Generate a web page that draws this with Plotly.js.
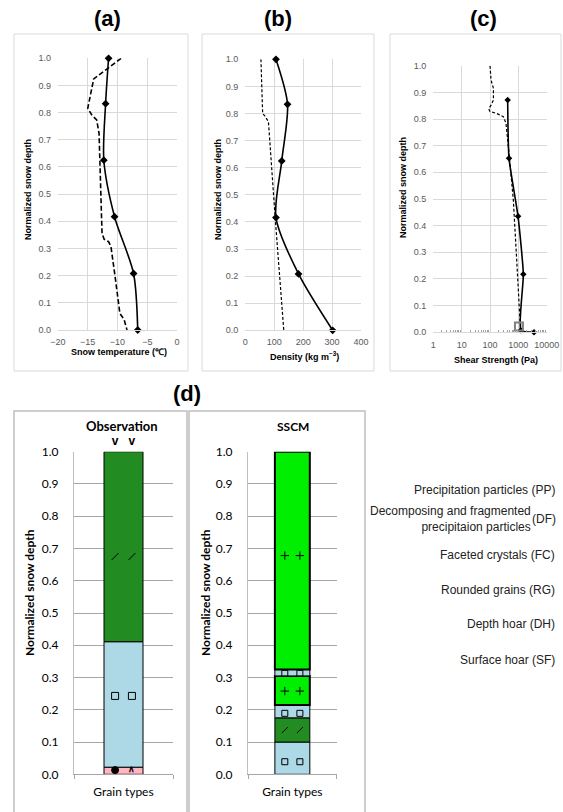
<!DOCTYPE html>
<html><head><meta charset="utf-8">
<script src="https://cdn.plot.ly/plotly-3.0.1.min.js"></script>
<style>html,body{margin:0;padding:0;background:#fff}#chart{width:563px;height:812px}</style>
</head><body><div id="chart"></div>
<script>
// ---------------- DATA ----------------
// (a) snow temperature
const depthObsA = [1.0, 0.833, 0.625, 0.417, 0.208, 0.0];
const tempObs   = [-11.5, -12.0, -12.3, -10.5, -7.3, -6.6];
const depthSimA = [1.0, 0.933, 0.924, 0.816, 0.791, 0.773, 0.724, 0.356, 0.334, 0.325, 0.307, 0.196, 0.061, 0.039, 0.0];
const tempSim   = [-9.4, -13.5, -14.0, -15.0, -14.3, -13.5, -13.1, -12.6, -12.25, -11.5, -11.1, -10.4, -9.6, -8.9, -8.4];
// (b) density
const depthObsB = [1.0, 0.834, 0.625, 0.416, 0.208, 0.0];
const densObs   = [106, 146, 126, 106, 184, 302];
const depthSimB = [1.0, 0.80, 0.79, 0.77, 0.42, 0.0];
const densSim   = [54, 60, 68, 80, 103, 133];
// (c) shear strength
const depthObsC  = [0.871, 0.6525, 0.435, 0.2175, 0.008, 0.0];
const shearObs   = [420, 468, 975, 1500, 1230, 3560];
const depthSimC  = [1.0, 0.946, 0.915, 0.871, 0.853, 0.838, 0.828, 0.821, 0.809, 0.784, 0.696, 0.496, 0.271, 0.046, 0.0];
const shearSim   = [100, 109, 132, 132, 110, 90, 100, 171, 296, 366, 445, 665, 875, 1140, 1310];
const depthExtraC = [0.022];
const shearExtraC = [1050];
const logTickVals = [1, 10, 100, 1000, 10000];
const logTickText = ['1', '10', '100', '1000', '10000'];
// (d) grain type layers
const obsBase = [0.0, 0.022, 0.411];
const obsTop  = [0.022, 0.411, 1.0];
const obsType = ['RG', 'FC', 'DF'];
const obsSymDepth = [0.013, 0.243, 0.675, 1.03];
const obsSymLeft  = ['RG', 'FC', 'DF', 'SH'];
const obsSymRight = ['DH', 'FC', 'DF', 'SH'];
const sscmBase = [0.0, 0.1, 0.175, 0.215, 0.305, 0.325];
const sscmTop  = [0.1, 0.175, 0.215, 0.305, 0.325, 1.0];
const sscmType = ['FC', 'DF', 'FC', 'PP', 'FC', 'PP'];
const sscmSymDepth = [0.039, 0.137, 0.189, 0.258, 0.313, 0.678];
const sscmSymLeft  = ['FC', 'DF', 'FC', 'PP', 'FC', 'PP'];
const sscmSymRight = ['FC', 'DF', 'FC', 'PP', 'FC', 'PP'];
const grainLabels = [
  ['Precipitation particles', 'PP'],
  ['Decomposing and fragmented<br>precipitaion particles', 'DF'],
  ['Faceted crystals', 'FC'],
  ['Rounded grains', 'RG'],
  ['Depth hoar', 'DH'],
  ['Surface hoar', 'SF']
];

// ---------------- STYLE ----------------
const W = 563, H = 812;
const fx = p => p / W;
const fy = p => 1 - p / H;
const ARIAL = 'Liberation Sans, Arial, sans-serif';
const LATO = 'Lato, Carlito, sans-serif';
const typeColor = {PP: '#00ee00', DF: '#228b22', FC: '#add8e6', RG: '#ffb6c1'};
const typeMarker = {PP: 'cross-thin-open', DF: 'line-ne-open', FC: 'square-open', RG: 'circle'};
const typeText = {DH: '∧', SH: 'v'};
const typeTextSize = {DH: 9, SH: 12};

const traces = [];
// (a)
traces.push({x: tempObs, y: depthObsA, xaxis: 'x', yaxis: 'y', type: 'scatter', mode: 'lines+markers',
  line: {color: '#000', width: 1.6, shape: 'spline', smoothing: 0.8},
  marker: {symbol: 'diamond', size: 6, color: '#000'}, cliponaxis: false});
traces.push({x: tempSim, y: depthSimA, xaxis: 'x', yaxis: 'y', type: 'scatter', mode: 'lines',
  line: {color: '#000', width: 1.6, dash: '5px,2.5px'}, cliponaxis: false});
// (b)
traces.push({x: densObs, y: depthObsB, xaxis: 'x2', yaxis: 'y2', type: 'scatter', mode: 'lines+markers',
  line: {color: '#000', width: 1.6, shape: 'spline', smoothing: 0.8},
  marker: {symbol: 'diamond', size: 6, color: '#000'}, cliponaxis: false});
traces.push({x: densSim, y: depthSimB, xaxis: 'x2', yaxis: 'y2', type: 'scatter', mode: 'lines',
  line: {color: '#000', width: 1.2, dash: '3px,2px'}, cliponaxis: false});
// (c)
traces.push({x: shearSim, y: depthSimC, xaxis: 'x3', yaxis: 'y3', type: 'scatter', mode: 'lines',
  line: {color: '#000', width: 1.2, dash: '3px,2px'}, cliponaxis: false});
traces.push({x: shearObs, y: depthObsC, xaxis: 'x3', yaxis: 'y3', type: 'scatter', mode: 'lines+markers',
  line: {color: '#000', width: 1.6, shape: 'spline', smoothing: 0.5},
  marker: {symbol: 'diamond', size: 5, color: '#000'}, cliponaxis: false});
traces.push({x: shearExtraC, y: depthExtraC, xaxis: 'x3', yaxis: 'y3', type: 'scatter', mode: 'markers',
  marker: {symbol: 'square-open', size: 8, color: '#808080', line: {width: 2, color: '#808080'}}, cliponaxis: false});

// (d) bars + symbols
function addColumn(base, top, types, symDepth, symL, symR, xa, ya, yaText, symSize) {
  traces.push({type: 'bar', x: base.map(() => 0), y: top.map((t, i) => t - base[i]), base: base,
    width: 0.394, xaxis: xa, yaxis: ya,
    marker: {color: types.map(t => typeColor[t]),
      line: {color: '#000', width: types.map(t => t === 'PP' ? 2 : 1)}}});
  const off = 0.085;
  const mx = [], my = [], ms = [];
  const inT = {x: [], y: [], t: [], s: []}, outT = {x: [], y: [], t: [], s: []};
  symDepth.forEach((d, i) => {
    [[-off, symL[i]], [off, symR[i]]].forEach(([ox, t]) => {
      if (typeMarker[t]) { mx.push(ox); my.push(d); ms.push(typeMarker[t]); }
      else { const g = d > 1 ? outT : inT; g.x.push(ox); g.y.push(d); g.t.push(typeText[t]); g.s.push(typeTextSize[t]); }
    });
  });
  traces.push({type: 'scatter', mode: 'markers', x: mx, y: my, xaxis: xa, yaxis: ya, cliponaxis: false,
    marker: {symbol: ms, size: symSize, color: '#000', line: {color: '#000', width: 1}}});
  [[inT, ya], [outT, yaText]].forEach(([g, yax]) => {
    traces.push({type: 'scatter', mode: 'text', x: g.x, y: g.y, text: g.t, xaxis: xa, yaxis: yax, cliponaxis: false,
      textposition: 'middle center', textfont: {family: ARIAL, size: g.s, color: '#000', weight: 'bold'}});
  });
}
addColumn(obsBase, obsTop, obsType, obsSymDepth, obsSymLeft, obsSymRight, 'x4', 'y4', 'y6', 7);
addColumn(sscmBase, sscmTop, sscmType, sscmSymDepth, sscmSymLeft, sscmSymRight, 'x5', 'y5', 'y7', 6);

// ---------------- AXES ----------------
const tickFontS = {family: ARIAL, size: 9, color: '#595959'};
function yAxisSmall(dom) {
  return {domain: dom, range: [0, 1], dtick: 0.1, tick0: 0, tickformat: '.1f', showgrid: true,
    gridcolor: '#d9d9d9', gridwidth: 1, zeroline: false, showline: false, ticks: '',
    tickfont: tickFontS, ticklabelstandoff: 6, fixedrange: true};
}
function xAxisLin(dom, range, dtick, anchor) {
  return {domain: dom, range: range, dtick: dtick, tick0: range[0], showgrid: true, gridcolor: '#d9d9d9',
    zeroline: false, showline: true, linecolor: '#d9d9d9', ticks: '', tickfont: tickFontS,
    ticklabelstandoff: 3, anchor: anchor};
}
const minorLog = [];
for (let d = 1; d < 10000; d *= 10) for (let k = 2; k <= 9; k++) minorLog.push(k * d);

const tickFontL = {family: LATO, size: 12, color: '#000'};
function yAxisD(dom, anchor) {
  return {domain: dom, range: [0, 1], dtick: 0.1, tick0: 0, tickformat: '.1f', showgrid: true,
    gridcolor: '#a6a6a6', gridwidth: 1, zeroline: false, showline: true, linecolor: '#bfbfbf',
    ticks: '', tickfont: tickFontL, ticklabelstandoff: 12, anchor: anchor};
}
function xAxisD(dom, anchor) {
  return {domain: dom, range: [-0.5, 0.5], tickvals: [0], ticktext: ['Grain types'], showgrid: false,
    zeroline: false, showline: true, linecolor: '#a6a6a6', ticks: '', tickfont: tickFontL,
    ticklabelstandoff: 6, anchor: anchor,
    minor: {tick0: -0.5, dtick: 1, ticks: 'outside', ticklen: 4, tickcolor: '#a6a6a6', showgrid: false}};
}

const dTop = 451.7, dBot = 774.3, dUnit = dBot - dTop;
const dObsY = [fy(dBot), fy(dTop)];
const extra = 0.06;
// hidden axis with the same scale, extended above 1.0, for glyphs drawn above the column
function yAxisExt(anchor) {
  return {domain: [fy(dBot), fy(dTop - extra * dUnit)], range: [0, 1 + extra], visible: false, anchor: anchor};
}

const layout = {
  width: W, height: H, margin: {l: 0, r: 0, t: 0, b: 0},
  paper_bgcolor: '#fff', plot_bgcolor: 'rgba(0,0,0,0)', showlegend: false, barmode: 'overlay',
  xaxis: xAxisLin([fx(58), fx(177)], [-20, 0], 5, 'y'),
  yaxis: Object.assign(yAxisSmall([fy(330), fy(58.3)]), {anchor: 'x'}),
  xaxis2: xAxisLin([fx(245.3), fx(361)], [0, 400], 100, 'y2'),
  yaxis2: Object.assign(yAxisSmall([fy(330.3), fy(59.3)]), {anchor: 'x2'}),
  xaxis3: {domain: [fx(433.3), fx(546.7)], type: 'log', range: [0, 4], tickvals: logTickVals, ticktext: logTickText,
    showgrid: true, gridcolor: '#d9d9d9', zeroline: false, showline: true, linecolor: '#d9d9d9', ticks: '',
    tickfont: tickFontS, ticklabelstandoff: 4, anchor: 'y3',
    minor: {tickvals: minorLog, ticks: 'inside', ticklen: 2, tickcolor: '#a0a0a0', showgrid: false}},
  yaxis3: Object.assign(yAxisSmall([fy(332.3), fy(65.7)]), {anchor: 'x3'}),
  xaxis4: xAxisD([fx(74), fx(173)], 'y4'),
  yaxis4: yAxisD(dObsY, 'x4'),
  xaxis5: xAxisD([fx(248), fx(336.7)], 'y5'),
  yaxis5: yAxisD(dObsY, 'x5'),
  yaxis6: yAxisExt('x4'),
  yaxis7: yAxisExt('x5'),
  shapes: [], annotations: []
};

function box(x0, y0, x1, y1, color, w) {
  layout.shapes.push({type: 'rect', xref: 'paper', yref: 'paper', x0: fx(x0), x1: fx(x1), y0: fy(y1), y1: fy(y0),
    line: {color: color, width: w}, fillcolor: 'rgba(0,0,0,0)', layer: 'below'});
}
box(14, 34, 188, 371, '#d9d9d9', 1);
box(202, 34, 374, 371, '#d9d9d9', 1);
box(390, 34, 561, 371, '#d9d9d9', 1);
box(14, 411, 187, 830, '#bfbfbf', 1.5);
box(189, 411, 365, 830, '#bfbfbf', 1.5);

function ann(text, px, py, font, opts) {
  layout.annotations.push(Object.assign({text: text, xref: 'paper', yref: 'paper', x: fx(px), y: fy(py),
    xanchor: 'center', yanchor: 'middle', showarrow: false, font: font}, opts || {}));
}
const titleFont = {family: ARIAL, size: 22, color: '#000', weight: 'bold'};
ann('<b>(a)</b>', 107, 18, titleFont);
ann('<b>(b)</b>', 278, 18, titleFont);
ann('<b>(c)</b>', 483, 18, titleFont);
ann('<b>(d)</b>', 187, 393, titleFont);

const axTitleS = {family: ARIAL, size: 9, color: '#000'};
ann('<b>Normalized snow depth</b>', 28, 190, axTitleS, {textangle: -90});
ann('<b>Normalized snow depth</b>', 218, 190, axTitleS, {textangle: -90});
ann('<b>Normalized snow depth</b>', 403, 188, axTitleS, {textangle: -90});
ann('<b>Snow temperature (℃)</b>', 119, 352, axTitleS);
ann('<b>Density (kg m<sup>−3</sup>)</b>', 304, 356, axTitleS);
ann('<b>Shear Strength (Pa)</b>', 496, 360, axTitleS);

const axTitleL = {family: LATO, size: 12, color: '#000'};
ann('<b>Normalized snow depth</b>', 29, 593, axTitleL, {textangle: -90});
ann('<b>Normalized snow depth</b>', 205, 593, axTitleL, {textangle: -90});
ann('<b>Observation</b>', 122, 426, {family: LATO, size: 13, color: '#000'});
ann('<b>SSCM</b>', 293, 426, {family: LATO, size: 12, color: '#000'});

const legFont = {family: ARIAL, size: 12, color: '#222'};
const legY = [490, 519, 555, 590, 624, 660];
grainLabels.forEach(([name, code], i) => {
  if (name.indexOf('<br>') >= 0) {
    ann(name, 533, legY[i], legFont, {xanchor: 'right', align: 'right'});
    ann('(' + code + ')', 558, legY[i], legFont, {xanchor: 'right'});
  } else {
    ann(name + ' (' + code + ')', 557, legY[i], legFont, {xanchor: 'right'});
  }
});

Plotly.newPlot('chart', traces, layout, {displayModeBar: false, staticPlot: true});
</script></body></html>
